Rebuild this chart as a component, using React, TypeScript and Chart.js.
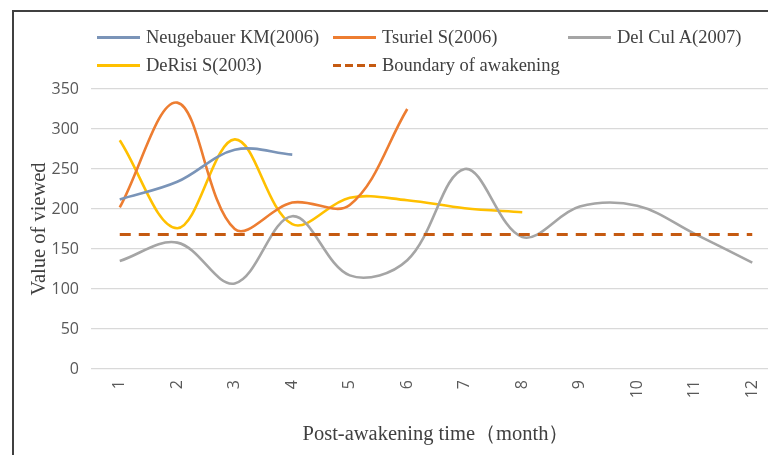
import React, { useEffect, useRef } from "react";
import { Chart, registerables } from "chart.js";

Chart.register(...registerables);

// ---- data ----
const months = ["1", "2", "3", "4", "5", "6", "7", "8", "9", "10", "11", "12"];
const neugebauer = [212, 234, 274, 268];
const tsuriel = [202, 333, 175, 208, 205, 325];
const delCul = [135, 158, 107, 191, 117, 136, 250, 165, 203, 204, 169, 133];
const deRisi = [286, 176, 287, 181, 214, 211, 201, 196];
const boundary = [168, 168, 168, 168, 168, 168, 168, 168, 168, 168, 168, 168];

const seriesNames = [
  "Neugebauer KM(2006)",
  "Tsuriel S(2006)",
  "Del Cul A(2007)",
  "DeRisi S(2003)",
  "Boundary of awakening",
];
const seriesData = [neugebauer, tsuriel, delCul, deRisi, boundary];
const seriesColors = ["#7A94B8", "#ED7D31", "#A5A5A5", "#FFC000", "#C55A11"];
const seriesDashed = [false, false, false, false, true];

const yMin = 0;
const yMax = 350;
const yStep = 50;
const xTitle = "Post-awakening time（month）";
const yTitle = "Value of viewed";

// legend placement (layout only)
const legendSlots = [
  { x: 97, y: 37 },
  { x: 333, y: 37 },
  { x: 568, y: 37 },
  { x: 97, y: 65 },
  { x: 333, y: 65 },
];

const CANVAS_W = 800;
const CANVAS_H = 455;

export default function App() {
  const ref = useRef<HTMLCanvasElement | null>(null);

  useEffect(() => {
    const canvas = ref.current;
    if (!canvas) return;
    const datasets = seriesNames.map((name, i) => ({
      label: name,
      data: seriesData[i],
      borderColor: seriesColors[i],
      backgroundColor: seriesColors[i],
      borderWidth: seriesDashed[i] ? 3 : 2.6,
      borderDash: seriesDashed[i] ? [11, 8] : [],
      pointRadius: 0,
      pointHoverRadius: 0,
      tension: seriesDashed[i] ? 0 : 0.36,
      fill: false,
      order: seriesDashed[i] ? 0 : 1,
    }));
    const chart = new Chart(canvas, {
      type: "line",
      data: { labels: months, datasets },
      options: {
        responsive: false,
        animation: false,
        events: [],
        layout: { padding: { left: 0, right: 19, top: 89, bottom: 0 } },
        plugins: {
          legend: { display: false },
          tooltip: { enabled: false },
          title: { display: false },
        },
        scales: {
          x: {
            type: "category",
            offset: true,
            grid: { display: false, drawTicks: false },
            border: { display: false },
            ticks: {
              minRotation: 90,
              maxRotation: 90,
              autoSkip: false,
              padding: 11,
              color: "#595959",
              font: { family: "'Open Sans', sans-serif", size: 16 },
            },
            title: {
              display: true,
              text: xTitle,
              color: "#404040",
              font: { family: "'Liberation Serif', serif", size: 20.5 },
              padding: { top: 0, bottom: 8 },
            },
            afterFit: (scale: any) => {
              scale.height = CANVAS_H - 369;
            },
          },
          y: {
            min: yMin,
            max: yMax,
            grid: { color: "#D9D9D9", lineWidth: 1.3, drawTicks: false },
            border: { display: false },
            ticks: {
              stepSize: yStep,
              padding: 12,
              color: "#595959",
              font: { family: "'Open Sans', sans-serif", size: 16 },
            },
            title: {
              display: true,
              text: yTitle,
              color: "#404040",
              font: { family: "'Liberation Serif', serif", size: 20.5 },
              padding: { top: 27, bottom: 0 },
            },
            afterFit: (scale: any) => {
              scale.width = 91;
            },
          },
        },
      },
    });
    return () => chart.destroy();
  }, []);

  return (
    <div
      style={{
        position: "fixed",
        left: 0,
        top: 0,
        width: 768,
        height: 455,
        overflow: "hidden",
        background: "#ffffff",
      }}
    >
      <div
        style={{
          position: "absolute",
          left: 12,
          top: 10,
          width: 900,
          height: 600,
          border: "2px solid #404040",
          boxSizing: "border-box",
        }}
      />
      <canvas
        ref={ref}
        width={CANVAS_W}
        height={CANVAS_H}
        style={{ position: "absolute", left: 0, top: 0, width: CANVAS_W, height: CANVAS_H }}
      />
      {seriesNames.map((name, i) => {
        const slot = legendSlots[i];
        const color = seriesColors[i];
        const swatchStyle: React.CSSProperties = seriesDashed[i]
          ? {
              background: `repeating-linear-gradient(to right, ${color} 0px, ${color} 8px, transparent 8px, transparent 12px)`,
            }
          : { background: color };
        return (
          <div
            key={name}
            style={{
              position: "absolute",
              left: slot.x,
              top: slot.y - 12,
              height: 24,
              display: "flex",
              alignItems: "center",
              whiteSpace: "nowrap",
            }}
          >
            <div style={{ width: 43, height: 3, ...swatchStyle }} />
            <span
              style={{
                marginLeft: 6,
                fontFamily: "'Liberation Serif', serif",
                fontSize: 18.5,
                color: "#404040",
                lineHeight: "24px",
              }}
            >
              {name}
            </span>
          </div>
        );
      })}
    </div>
  );
}
